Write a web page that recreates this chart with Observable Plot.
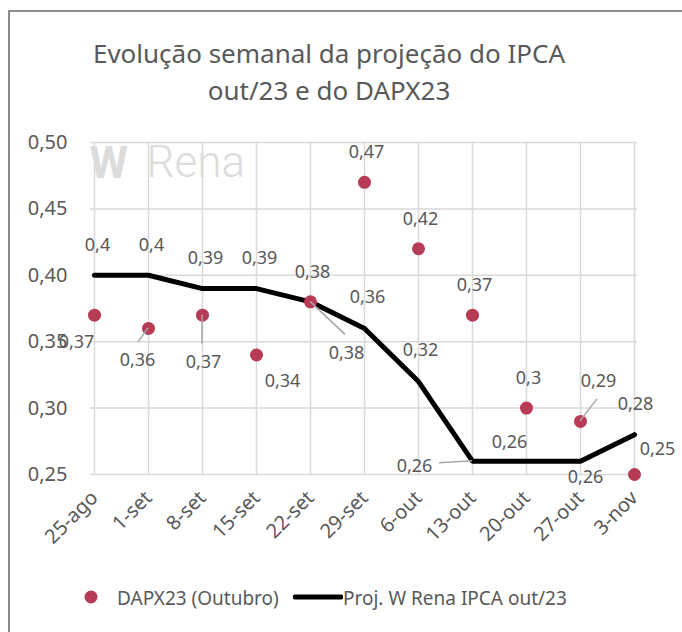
<!DOCTYPE html>
<html>
<head>
<meta charset="utf-8">
<script src="https://cdn.jsdelivr.net/npm/d3@7"></script>
<script src="https://cdn.jsdelivr.net/npm/@observablehq/plot@0.6"></script>
<style>
  html, body { margin: 0; padding: 0; background: #fff; }
  body { width: 682px; height: 632px; overflow: hidden; position: relative; font-family: "Noto Sans", sans-serif; color: #595959; }
  #frame { position: absolute; left: 8px; top: 10px; width: 900px; height: 900px; border-left: 2px solid #8c8c8c; border-top: 2px solid #8c8c8c; box-sizing: border-box; }
  #title { position: absolute; left: 0; width: 658px; top: 35px; text-align: center; font-size: 26px; line-height: 37px; color: #595959; }
  #chart { position: absolute; left: 0; top: 110px; }
  #legend { position: absolute; top: 584px; left: 0; width: 682px; height: 28px; font-size: 19px; color: #595959; }
  #legend .item { position: absolute; top: 0; height: 28px; line-height: 28px; white-space: nowrap; }
</style>
</head>
<body>
<div id="frame"></div>
<div id="title">Evolução semanal da projeção do IPCA<br>out/23 e do DAPX23</div>
<div id="chart"></div>
<div id="legend">
  <div class="item" style="left:84px;"><svg width="14" height="28" style="vertical-align:top"><circle cx="7" cy="13" r="6.5" fill="#b83b55"/></svg></div>
  <div class="item" style="left:117px;">DAPX23 (Outubro)</div>
  <div class="item" style="left:293px;"><svg width="50" height="28" style="vertical-align:top"><line x1="2" y1="13" x2="48" y2="13" stroke="#000" stroke-width="5" stroke-linecap="round"/></svg></div>
  <div class="item" style="left:343px;">Proj. W Rena IPCA out/23</div>
</div>
<script>
// ---- data ----
const categories = ["25-ago","1-set","8-set","15-set","22-set","29-set","6-out","13-out","20-out","27-out","3-nov"];
const dapx23 = [0.37, 0.36, 0.37, 0.34, 0.38, 0.47, 0.42, 0.37, 0.30, 0.29, 0.25];
const projWRena = [0.40, 0.40, 0.39, 0.39, 0.38, 0.36, 0.32, 0.26, 0.26, 0.26, 0.28];
const yTicks = [0.25, 0.30, 0.35, 0.40, 0.45, 0.50];

// label placement (pixel offsets from each point, like Excel's manual label positions)
const dapxLabelDx = [-18, -11, 1, 26, 36, 2, 2, 2, 2, 18, 23];
const dapxLabelDy = [27, 32, 47, 26, 51, -30, -30, -30, -30, -40, -25];
const projLabelDx = [3, 3, 3, 3, 2, 3, 2, -58, -17, 5, 1];
const projLabelDy = [-30, -30, -30, -30, -30, -31, -31, 5, -19, 16, -30];
// leader lines: [series, index, label-end dx, label-end dy]
const leaders = [
  ["dapx", 1, -10, 14],
  ["dapx", 2, 0, 29],
  ["dapx", 4, 35, 33],
  ["dapx", 9, 17, -22],
  ["proj", 7, -33, 2]
];

const fmt = v => String(+v.toFixed(2)).replace(".", ",");
const rows = categories.map((c, i) => ({cat: c, dapx: dapx23[i], proj: projWRena[i], i}));

const textColor = "#595959";
const labelFont = 18;

const labelMarks = [];
rows.forEach((d, i) => {
  labelMarks.push(Plot.text([d], {x: "cat", y: "proj", text: r => fmt(r.proj), dx: projLabelDx[i], dy: projLabelDy[i], fontSize: labelFont, fill: textColor}));
  labelMarks.push(Plot.text([d], {x: "cat", y: "dapx", text: r => fmt(r.dapx), dx: dapxLabelDx[i], dy: dapxLabelDy[i], fontSize: labelFont, fill: textColor}));
});

const plot = Plot.plot({
  width: 682,
  height: 440,
  marginLeft: 90,
  marginRight: 45,
  marginTop: 32,
  marginBottom: 76,
  style: {fontFamily: "Noto Sans, sans-serif", color: textColor, background: "transparent", overflow: "visible"},
  x: {type: "point", domain: categories, padding: 0},
  y: {domain: [0.25, 0.5]},
  marks: [
    Plot.ruleY(yTicks, {stroke: "#d9d9d9", strokeWidth: 1.5}),
    Plot.ruleX(categories, {y1: 0.25, y2: 0.5, stroke: "#d9d9d9", strokeWidth: 1.5}),
    Plot.text(["W"], {frameAnchor: "top-left", dx: -1, dy: 4, textAnchor: "start", lineAnchor: "top", fontSize: 44, fontWeight: "bold", fill: "#dcdcdc", fontFamily: "Roboto"}),
    Plot.text(["Rena"], {frameAnchor: "top-left", dx: 56, dy: 3, textAnchor: "start", lineAnchor: "top", fontSize: 44, fontWeight: 300, fill: "#dcdcdc", fontFamily: "Roboto"}),
    Plot.line(rows, {x: "cat", y: "proj", stroke: "#000", strokeWidth: 5}),
    Plot.dot(rows, {x: "cat", y: "dapx", r: 6.5, fill: "#b83b55", stroke: "none"}),
    ...labelMarks,
    Plot.axisY({ticks: yTicks, tickSize: 0, tickPadding: 23, fontSize: 20, tickFormat: v => v.toFixed(2).replace(".", ","), label: null}),
    Plot.axisX({tickSize: 0, tickPadding: 20, tickRotate: -45, fontSize: 20, label: null})
  ]
});
document.getElementById("chart").appendChild(plot);

// leader lines drawn through the plot's own scales
const sx = plot.scale("x"), sy = plot.scale("y");
const svg = d3.select(plot);
const g = svg.append("g").attr("stroke", "#a6a6a6").attr("stroke-width", 1.5);
leaders.forEach(([s, i, ex, ey]) => {
  const px = sx.apply(categories[i]);
  const py = sy.apply(s === "dapx" ? dapx23[i] : projWRena[i]);
  g.append("line").attr("x1", px).attr("y1", py).attr("x2", px + ex).attr("y2", py + ey);
});
</script>
</body>
</html>
